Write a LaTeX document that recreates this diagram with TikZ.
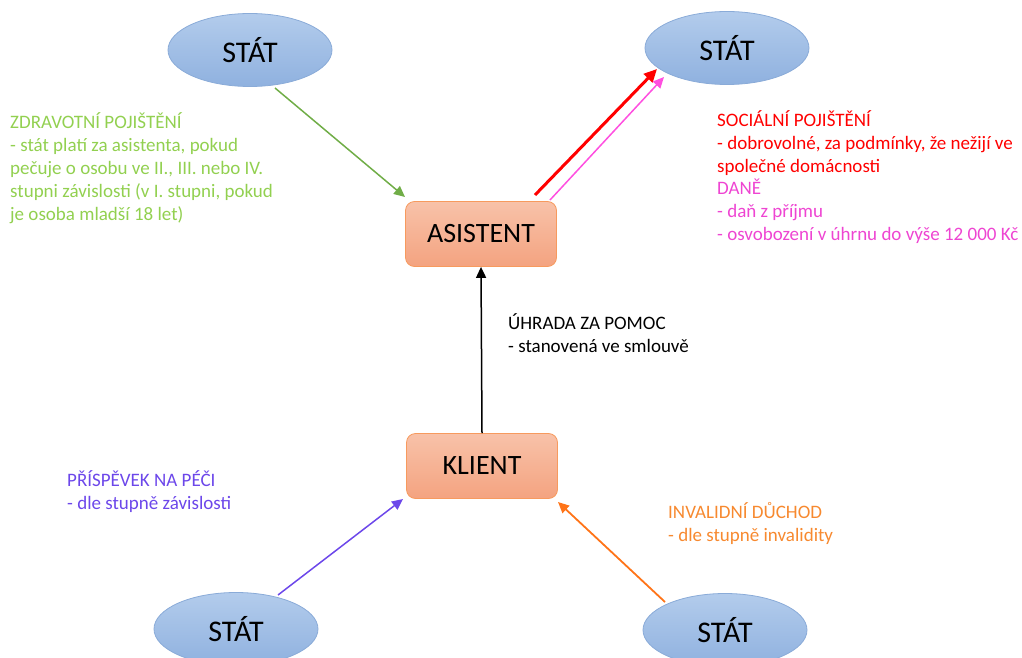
\documentclass[tikz,border=0pt]{standalone}
\usepackage{fontspec}
\setmainfont{Carlito}
\usetikzlibrary{shapes.geometric,arrows.meta,calc}

\definecolor{stateedge}{HTML}{8AABD8}
\definecolor{statetop}{HTML}{B3CCEC}
\definecolor{statebot}{HTML}{8FB1DF}
\definecolor{boxedge}{HTML}{F79A5E}
\definecolor{boxtop}{HTML}{F8C2A9}
\definecolor{boxbot}{HTML}{F4A380}
\definecolor{healthtxt}{HTML}{92D050}
\definecolor{healtharr}{HTML}{70AD47}
\definecolor{taxpink}{HTML}{EE45D2}
\definecolor{taxarr}{HTML}{FF4FE0}
\definecolor{carepurple}{HTML}{6C47EA}
\definecolor{pensionorange}{HTML}{F7892F}
\definecolor{pensionarr}{HTML}{FF7418}

\tikzset{
  statenode/.style={ellipse, draw=stateedge, line width=0.8pt, top color=statetop,
    bottom color=statebot, minimum width=164pt, minimum height=73pt, inner sep=0pt,
    font=\fontsize{30}{34}\selectfont},
  rolebox/.style={rectangle, rounded corners=9pt, draw=boxedge, line width=0.8pt,
    top color=boxtop, bottom color=boxbot, minimum width=151pt, minimum height=65pt,
    inner sep=0pt, font=\fontsize{28}{32}\selectfont},
  notetext/.style={anchor=north west, align=left, inner sep=0pt,
    font=\fontsize{19}{23}\selectfont},
  flow/.style={-{Triangle[length=11pt,width=10pt]}, line width=1.5pt},
}

\begin{document}
\begin{tikzpicture}[x=1pt,y=-1pt]
\useasboundingbox (0,0) rectangle (1022,658);

% actors
\node[statenode] (tl) at (250,50) {STÁT};
\node[statenode] (tr) at (727,48) {STÁT};
\node[statenode] (bl) at (236,629) {STÁT};
\node[statenode] (br) at (725,630) {STÁT};
\node[rolebox] (as) at (481,234) {ASISTENT};
\node[rolebox] (kl) at (482,466) {KLIENT};

% payment flows
\draw[flow, healtharr] ($(tl)+(25,38)$) -- ($(as)+(-76,-37)$);
\draw[flow, black] (kl.north) -- (as.south);
\draw[-{Triangle[length=13pt,width=12pt]}, line width=3pt, red]
  ($(as)+(54,-39)$) -- ($(tr)+(-70,21)$);
\draw[flow, taxarr] ($(as)+(69,-34)$) -- ($(tr)+(-63,29)$);
\draw[flow, carepurple] ($(bl)+(42,-34)$) -- ($(kl)+(-79,33)$);
\draw[flow, pensionarr, line width=1.8pt] ($(br)+(-60,-28)$) -- ($(kl)+(76,36)$);

% explanatory notes
\node[notetext, text=healthtxt] (health) at (10,112) {ZDRAVOTNÍ POJIŠTĚNÍ\\
- stát platí za asistenta, pokud\\
pečuje o osobu ve II., III. nebo IV.\\
stupni závislosti (v I. stupni, pokud\\
je osoba mladší 18 let)};

\node[notetext, text=red] (social) at (717,110) {SOCIÁLNÍ POJIŠTĚNÍ\\
- dobrovolné, za podmínky, že nežijí ve\\
společné domácnosti};
\node[notetext, text=taxpink] (tax) at (717,179) {DANĚ\\
- daň z příjmu\\
- osvobození v úhrnu do výše 12 000 Kč};

\node[notetext, text=black] (pay) at (508,313) {ÚHRADA ZA POMOC\\
- stanovená ve smlouvě};

\node[notetext, text=carepurple] (care) at (67,470) {PŘÍSPĚVEK NA PÉČI\\
- dle stupně závislosti};

\node[notetext, text=pensionorange] (pension) at (668,502) {INVALIDNÍ DŮCHOD\\
- dle stupně invalidity};
\end{tikzpicture}
\end{document}
